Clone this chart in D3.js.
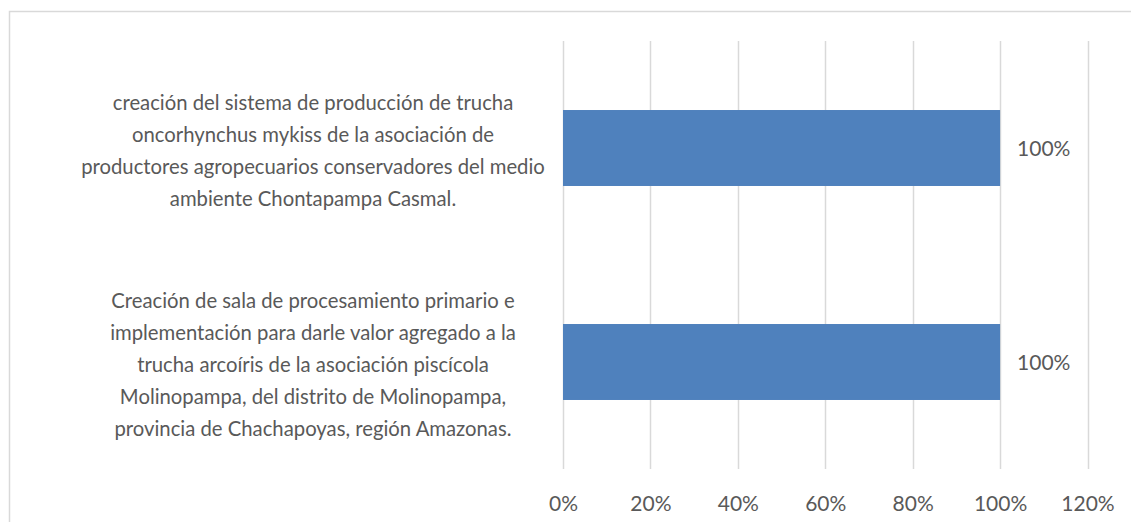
<!DOCTYPE html>
<html>
<head>
<meta charset="utf-8">
<script src="https://cdn.jsdelivr.net/npm/d3@7"></script>
<style>
  html, body { margin: 0; padding: 0; background: #fff; }
  svg { display: block; }
  text { font-family: Lato, "Open Sans", sans-serif; fill: #595959; }
</style>
</head>
<body>
<svg id="chart" width="1131" height="522"></svg>
<script>
const categories = [
  ["creación del sistema de producción de trucha",
   "oncorhynchus mykiss de la asociación de",
   "productores agropecuarios conservadores del medio",
   "ambiente Chontapampa Casmal."],
  ["Creación de sala de procesamiento primario e",
   "implementación para darle valor agregado a la",
   "trucha arcoíris de la asociación piscícola",
   "Molinopampa, del distrito de Molinopampa,",
   "provincia de Chachapoyas, región Amazonas."]
];
const values = [1.0, 1.0];
const tickValues = [0, 0.2, 0.4, 0.6, 0.8, 1.0, 1.2];

const svg = d3.select("#chart");
const plot = { left: 563, right: 1087.5, top: 41, bottom: 469 };

// chart border
svg.append("rect")
  .attr("x", 9.5).attr("y", 11.5)
  .attr("width", 1200).attr("height", 600)
  .attr("fill", "none").attr("stroke", "#d9d9d9").attr("stroke-width", 1.5);

const x = d3.scaleLinear().domain([0, 1.2]).range([plot.left, plot.right]);
const idx = d3.range(categories.length);
const y = d3.scaleBand().domain(idx).range([plot.top, plot.bottom])
  .paddingInner(0.645).paddingOuter(0.3225);

// gridlines
svg.append("g").selectAll("line").data(tickValues).join("line")
  .attr("x1", d => Math.round(x(d)) + 0.5).attr("x2", d => Math.round(x(d)) + 0.5)
  .attr("y1", plot.top).attr("y2", plot.bottom)
  .attr("stroke", "#d9d9d9").attr("stroke-width", 1.5);

// x axis labels
const xAxis = d3.axisBottom(x).tickValues(tickValues)
  .tickFormat(d3.format(".0%")).tickSize(0).tickPadding(0);
const gx = svg.append("g").attr("transform", `translate(0, ${plot.bottom + 27})`).call(xAxis);
gx.select(".domain").remove();
gx.selectAll("text").style("font-size", "21px").attr("fill", "#595959")
  .style("font-family", "Lato, 'Open Sans', sans-serif");

// bars
svg.append("g").selectAll("rect").data(values).join("rect")
  .attr("x", x(0))
  .attr("y", (d, i) => y(i))
  .attr("width", d => x(d) - x(0))
  .attr("height", y.bandwidth())
  .attr("fill", "#4f81bd");

// value labels
svg.append("g").selectAll("text").data(values).join("text")
  .attr("x", d => x(d) + 17)
  .attr("y", (d, i) => y(i) + y.bandwidth() / 2 + 1)
  .attr("dy", "0.35em")
  .style("font-size", "21px")
  .text(d => d3.format(".0%")(d));

// category labels
const lineH = 32;
const catG = svg.append("g");
categories.forEach((lines, i) => {
  const cy = y(i) + y.bandwidth() / 2 + 3;
  const t = catG.append("text")
    .attr("text-anchor", "middle")
    .style("font-size", "20.3px");
  lines.forEach((ln, k) => {
    t.append("tspan")
      .attr("x", 313)
      .attr("y", cy + (k - (lines.length - 1) / 2) * lineH)
      .attr("dy", "0.35em")
      .text(ln);
  });
});
</script>
</body>
</html>
